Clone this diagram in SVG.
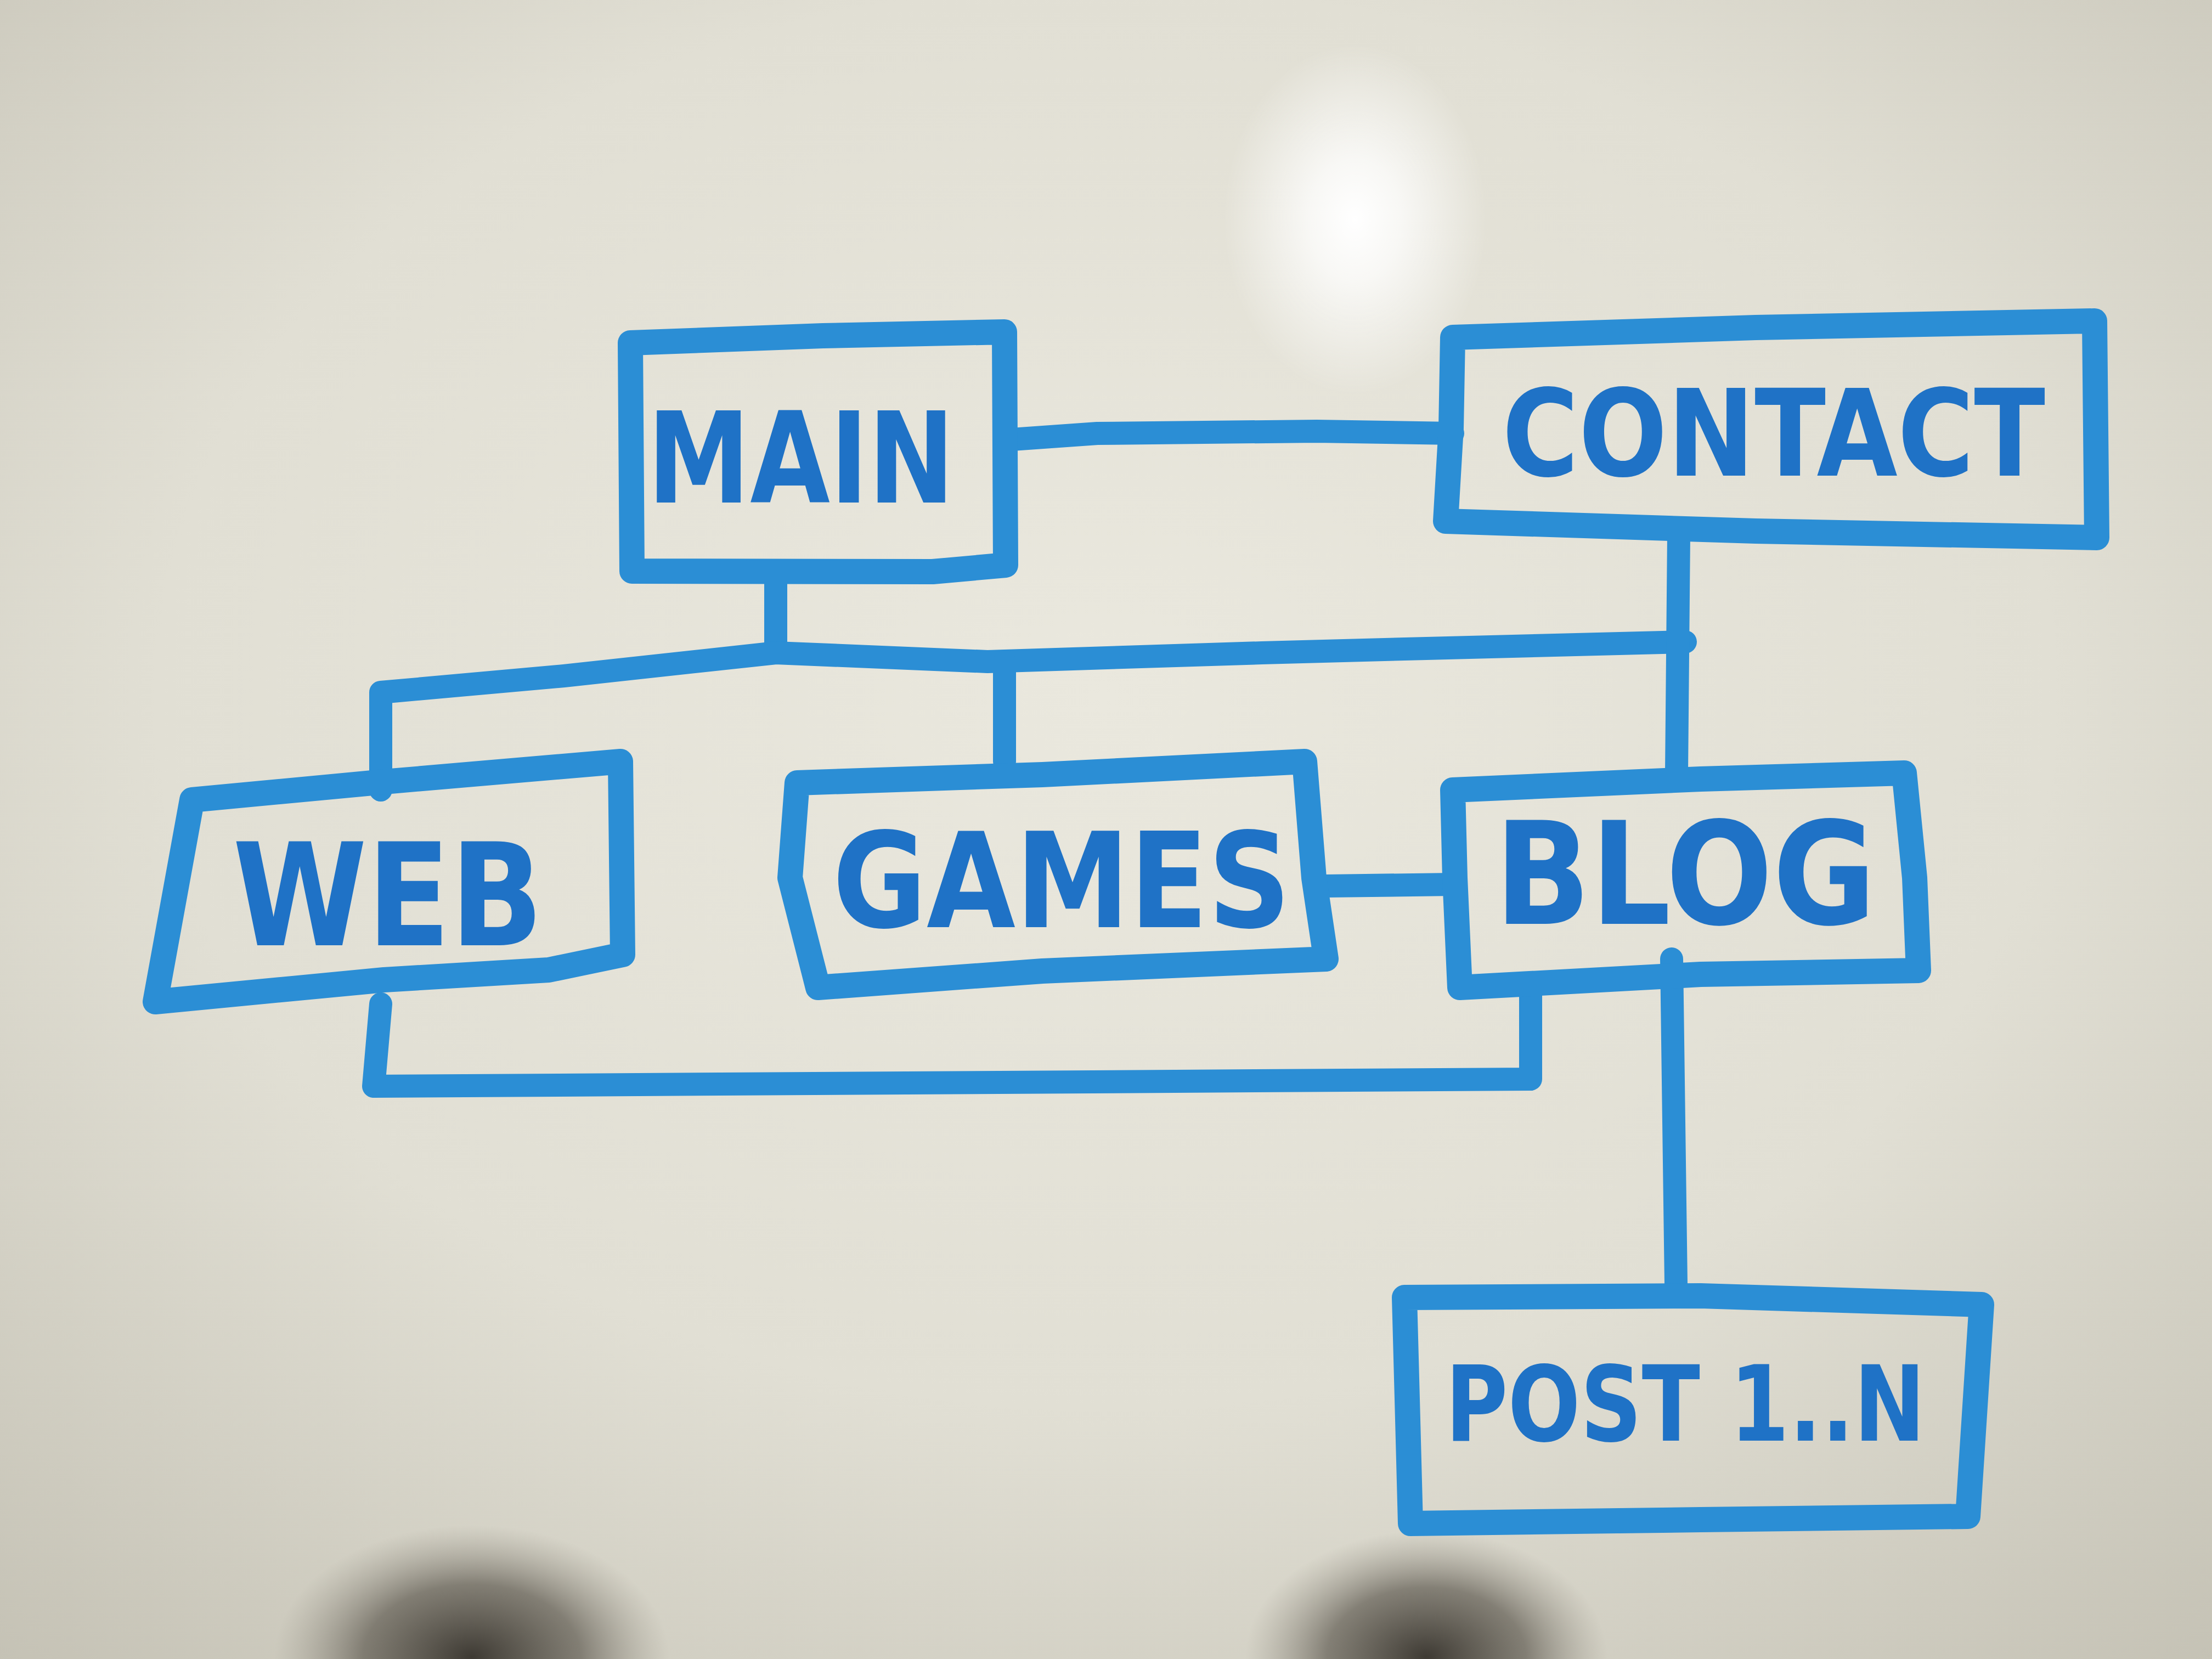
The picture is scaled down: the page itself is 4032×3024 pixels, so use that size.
<svg xmlns="http://www.w3.org/2000/svg" width="4032" height="3024" viewBox="0 0 4032 3024">
<defs>
<radialGradient id="bg" cx="0.5" cy="0.42" r="0.78">
<stop offset="0" stop-color="#eae8de"/>
<stop offset="0.55" stop-color="#e1dfd4"/>
<stop offset="1" stop-color="#c4c1b4"/>
</radialGradient>
<radialGradient id="glare" cx="0.5" cy="0.5" r="0.5">
<stop offset="0" stop-color="#ffffff" stop-opacity="1"/>
<stop offset="0.35" stop-color="#ffffff" stop-opacity="0.75"/>
<stop offset="1" stop-color="#ffffff" stop-opacity="0"/>
</radialGradient>
<radialGradient id="shadow" cx="0.5" cy="0.5" r="0.5">
<stop offset="0" stop-color="#2e2a24" stop-opacity="0.9"/>
<stop offset="0.55" stop-color="#4d483f" stop-opacity="0.6"/>
<stop offset="1" stop-color="#8a857a" stop-opacity="0"/>
</radialGradient>
<style>
.box{fill:none;stroke:#2b8ed5;stroke-width:46;stroke-linejoin:round;stroke-linecap:round}
.con{fill:none;stroke:#2b8ed5;stroke-width:42;stroke-linejoin:round;stroke-linecap:round}
.lbl{font-family:"DejaVu Sans Condensed","DejaVu Sans","Liberation Sans",sans-serif;font-stretch:condensed;font-weight:bold;fill:#1f72c6;text-anchor:middle;dominant-baseline:central}
</style>
</defs>
<rect width="4032" height="3024" fill="url(#bg)"/>
<ellipse cx="2470" cy="400" rx="240" ry="320" fill="url(#glare)"/>
<ellipse cx="860" cy="3020" rx="360" ry="240" fill="url(#shadow)"/>
<ellipse cx="2600" cy="3020" rx="330" ry="230" fill="url(#shadow)"/>

<g id="connectors">
<path class="con" d="M1831,802 L2000,790 L2400,786 L2648,790"/>
<path class="con" d="M1414,1041 L1414,1190"/>
<path class="con" d="M694,1440 L694,1262 L1028,1232 L1414,1190 L1800,1206 L2300,1190 L2600,1182 L3072,1170"/>
<path class="con" d="M1831,1206 L1831,1388"/>
<path class="con" d="M3060,977 L3056,1409"/>
<path class="con" d="M2417,1615 L2648,1612"/>
<path class="con" d="M694,1830 L681,1980 L2790,1967 L2790,1800"/>
<path class="con" d="M3047,1748 L3055,2340"/>
</g>

<g id="node-main">
<path class="box" d="M1149,625 L1500,612 L1831,605 L1833,1030 L1700,1042 L1152,1041 Z"/>
<text class="lbl" x="1460" y="836" font-size="230" textLength="560" lengthAdjust="spacingAndGlyphs">MAIN</text>
</g>
<g id="node-contact">
<path class="box" d="M2648,615 L3200,597 L3818,585 L3822,980 L3200,968 L2635,950 L2645,780 Z"/>
<text class="lbl" x="3233" y="791" font-size="220" textLength="990" lengthAdjust="spacingAndGlyphs">CONTACT</text>
</g>
<g id="node-web">
<path class="box" d="M350,1458 L700,1425 L1131,1388 L1135,1740 L1000,1768 L700,1786 L283,1826 Z"/>
<text class="lbl" x="707" y="1633" font-size="260" textLength="566" lengthAdjust="spacingAndGlyphs">WEB</text>
</g>
<g id="node-games">
<path class="box" d="M1453,1427 L1900,1412 L2378,1388 L2395,1600 L2417,1748 L1900,1770 L1491,1800 L1440,1600 Z"/>
<text class="lbl" x="1935" y="1607" font-size="240" textLength="835" lengthAdjust="spacingAndGlyphs">GAMES</text>
</g>
<g id="node-blog">
<path class="box" d="M2648,1440 L3100,1420 L3471,1409 L3490,1600 L3497,1769 L3100,1776 L2661,1800 L2652,1600 Z"/>
<text class="lbl" x="3072" y="1594" font-size="260" textLength="695" lengthAdjust="spacingAndGlyphs">BLOG</text>
</g>
<g id="node-post">
<path class="box" d="M2560,2365 L3100,2362 L3612,2378 L3587,2764 L3100,2770 L2571,2777 L2565,2550 Z"/>
<text class="lbl" x="3072" y="2560" font-size="190" textLength="875" lengthAdjust="spacingAndGlyphs">POST 1..N</text>
</g>
</svg>
